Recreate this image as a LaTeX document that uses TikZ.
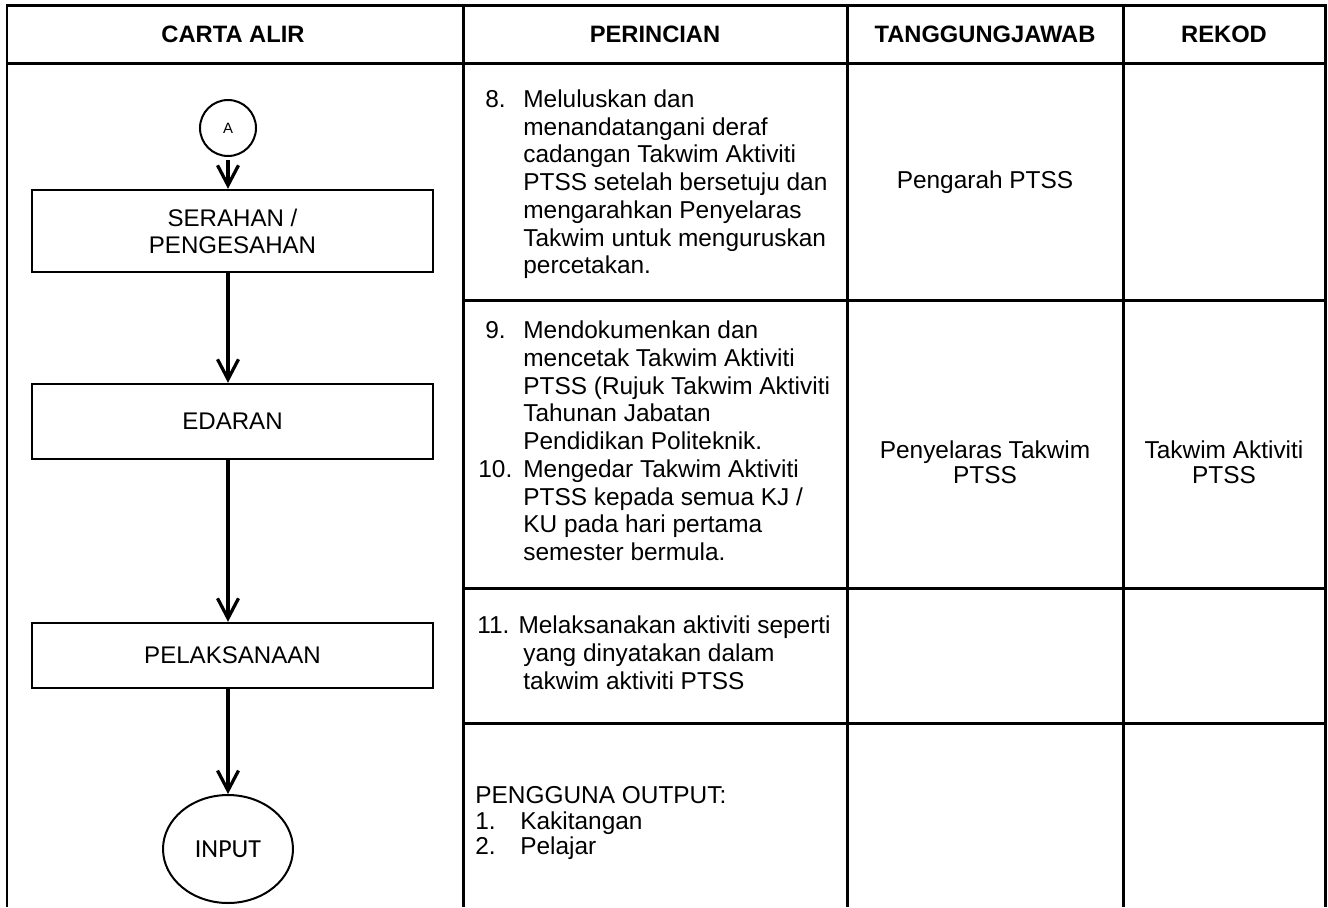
\documentclass[tikz,border=0pt]{standalone}
\usepackage{fontspec}
\setmainfont{Liberation Sans}
\newfontfamily\calibrifont{Carlito}
\usetikzlibrary{arrows.meta,shapes.geometric}
\newcommand{\bodysize}{\fontsize{13.9pt}{15.8pt}\selectfont}

\begin{document}
\begin{tikzpicture}[x=0.02cm,y=-0.02cm,
    grid/.style={line width=0.06cm},
    head/.style={font=\fontsize{13.5pt}{15pt}\selectfont\bfseries},
    box/.style={draw, line width=0.05cm, minimum width=8.02cm, inner sep=0pt, align=center, font=\fontsize{13.7pt}{15.4pt}\selectfont},
    flow/.style={line width=0.065cm, -{Straight Barb[length=0.4cm,width=0.42cm]}},
    desc/.style={anchor=west, inner sep=0pt, font=\bodysize},
    who/.style={align=center, inner sep=0pt, font=\fontsize{13.9pt}{14.2pt}\selectfont}]
    \useasboundingbox (0,0) rectangle (1328,907);
    \draw[grid] (7,907) -- (7,5) -- (1325.5,5) -- (1325.5,907);
    \draw[grid] (7,63) -- (1325.5,63);
    \foreach \x in {463,847,1123} \draw[grid] (\x,5) -- (\x,907);
    \foreach \y in {300,588,723} \draw[grid] (463,\y) -- (1325.5,\y);
    \node[head] (hcarta) at (233,34) {CARTA ALIR};
    \node[head] (hperinci) at (655,34) {PERINCIAN};
    \node[head] (htanggung) at (985,34) {TANGGUNGJAWAB};
    \node[head] (hrekod) at (1224,34) {REKOD};
    \node[draw, circle, line width=0.04cm, minimum size=1.12cm, inner sep=0pt, font=\fontsize{8.5pt}{9pt}\selectfont] (conA) at (228,128) {A};
    \node[box, minimum height=1.64cm] (ser) at (232.5,231) {SERAHAN /\\PENGESAHAN};
    \node[box, minimum height=1.5cm] (edr) at (232.5,421.5) {EDARAN};
    \node[box, minimum height=1.3cm] (pel) at (232.5,655.5) {PELAKSANAAN};
    \node[draw, ellipse, line width=0.04cm, minimum width=2.6cm, minimum height=2.16cm, inner sep=0pt, font=\calibrifont\fontsize{14.8pt}{16pt}\selectfont] (inp) at (228,849) {INPUT};
    \draw[flow, shorten <=0.05cm] (conA) -- (conA |- ser.north);
    \draw[flow] (ser.south -| conA) -- (edr.north -| conA);
    \draw[flow] (edr.south -| conA) -- (pel.north -| conA);
    \draw[flow] (pel.south -| conA) -- (inp);
    \node[desc] (d8) at (478,185) {\begin{tabular}{@{}p{0.9cm}@{}l@{}}
        \hspace*{0.14cm}8. & Meluluskan dan\\
        & menandatangani deraf\\
        & cadangan Takwim Aktiviti\\
        & PTSS setelah bersetuju dan\\
        & mengarahkan Penyelaras\\
        & Takwim untuk menguruskan\\
        & percetakan.
    \end{tabular}};
    \node[desc] (d9) at (478,444) {\begin{tabular}{@{}p{0.9cm}@{}l@{}}
        \hspace*{0.14cm}9. & Mendokumenkan dan\\
        & mencetak Takwim Aktiviti\\
        & PTSS (Rujuk Takwim Aktiviti\\
        & Tahunan Jabatan\\
        & Pendidikan Politeknik.\\
        10. & Mengedar Takwim Aktiviti\\
        & PTSS kepada semua KJ /\\
        & KU pada hari pertama\\
        & semester bermula.
    \end{tabular}};
    \node[desc] (d11) at (477,656) {\begin{tabular}{@{}p{0.92cm}@{}l@{}}
        \multicolumn{2}{@{}l@{}}{11. Melaksanakan aktiviti seperti}\\
        & yang dinyatakan dalam\\
        & takwim aktiviti PTSS
    \end{tabular}};
    \node[desc] (d12) at (475,824) {\renewcommand{\arraystretch}{0.9}\begin{tabular}{@{}p{0.9cm}@{}l@{}}
        \multicolumn{2}{@{}l@{}}{PENGGUNA OUTPUT:}\\
        1. & Kakitangan\\
        2. & Pelajar
    \end{tabular}};
    \node[who] (t8) at (985,182) {Pengarah PTSS};
    \node[who] (t9) at (985,462) {Penyelaras Takwim\\PTSS};
    \node[who] (r9) at (1224,462) {Takwim Aktiviti\\PTSS};
\end{tikzpicture}
\end{document}
